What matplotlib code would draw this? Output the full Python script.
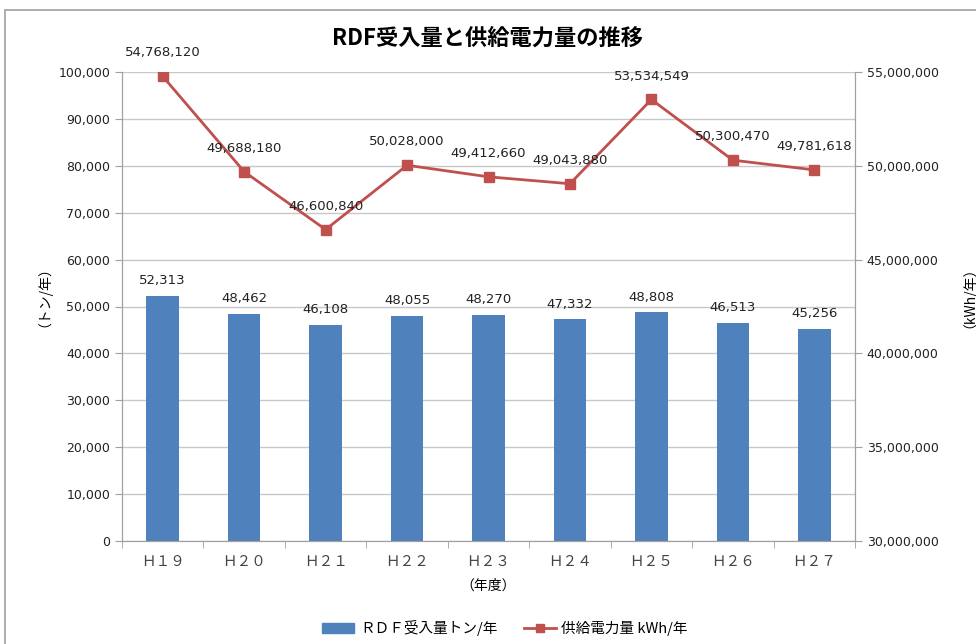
import numpy as np
import matplotlib.pyplot as plt
from matplotlib.patches import Rectangle
from matplotlib.ticker import FuncFormatter

plt.rcParams['font.family'] = ['DejaVu Sans', 'Noto Sans CJK JP']
CJK = ['Noto Sans CJK JP', 'DejaVu Sans']

years = ['Ｈ１９', 'Ｈ２０', 'Ｈ２１', 'Ｈ２２', 'Ｈ２３', 'Ｈ２４', 'Ｈ２５', 'Ｈ２６', 'Ｈ２７']
rdf_tons = [52313, 48462, 46108, 48055, 48270, 47332, 48808, 46513, 45256]
power_kwh = [54768120, 49688180, 46600840, 50028000, 49412660, 49043880, 53534549, 50300470, 49781618]

bar_color = '#4F81BD'
line_color = '#C0504D'

fig = plt.figure(figsize=(9.76, 6.44), dpi=100)
fig.patches.append(Rectangle((5/976, -0.01), 1.0, 1 - 10/644 + 0.01, transform=fig.transFigure,
                             fill=False, edgecolor='#A0A0A0', linewidth=1.2))
ax = fig.add_axes([122/976, 1 - 541/644, (855 - 122)/976, (541 - 72)/644])
ax2 = ax.twinx()

x = np.arange(len(years))
ax.bar(x, rdf_tons, width=0.4, color=bar_color, zorder=2)
for xi, v in zip(x, rdf_tons):
    ax.text(xi, v + 1800, f'{v:,}', ha='center', va='bottom', fontsize=9.5, color='#222222')

ax2.plot(x, power_kwh, color=line_color, marker='s', markersize=7, linewidth=2, zorder=3)
for xi, v in zip(x, power_kwh):
    ax2.text(xi, v + 900000, f'{v:,}', ha='center', va='bottom', fontsize=9.5, color='#222222')

ax.set_xlim(-0.5, len(years) - 0.5)
ax.set_ylim(0, 100000)
ax.set_yticks(np.arange(0, 100001, 10000))
ax2.set_ylim(30000000, 55000000)
ax2.set_yticks(np.arange(30000000, 55000001, 5000000))
fmt = FuncFormatter(lambda v, p: f'{int(v):,}')
ax.yaxis.set_major_formatter(fmt)
ax2.yaxis.set_major_formatter(fmt)

ax.set_xticks(x)
ax.set_xticklabels(years, fontsize=10.5, color='#444444', family=CJK)
ax.set_xticks(np.arange(-0.5, len(years)), minor=True)
ax.tick_params(axis='x', which='major', length=0, pad=10)
ax.tick_params(axis='x', which='minor', length=5, color='#A0A0A0')
ax.tick_params(axis='y', length=5, color='#A0A0A0', labelsize=9, labelcolor='#222222')
ax2.tick_params(axis='y', length=5, color='#A0A0A0', labelsize=9, labelcolor='#222222')

ax.grid(axis='y', color='#C8C8C8', linewidth=1, zorder=0)
ax.set_axisbelow(True)
for a in (ax, ax2):
    a.spines['top'].set_visible(False)
    for s in ('left', 'right', 'bottom'):
        a.spines[s].set_color('#A0A0A0')

fig.text(37/976, 1 - 290/644, '（トン/年）', rotation=90, ha='center', va='center',
         fontsize=10, family=CJK)
fig.text(962/976, 1 - 290/644, '（kWh/年）', rotation=90, ha='center', va='center',
         fontsize=10, family=CJK)
ax.set_xlabel('（年度）', fontsize=10, labelpad=7, family=CJK)

fig.text(0.5, 1 - 38/644, 'RDF受入量と供給電力量の推移', ha='center', va='center',
         fontsize=16, fontweight='bold', family=CJK)

handles = [Rectangle((0, 0), 1, 1, color=bar_color),
           plt.Line2D([], [], color=line_color, marker='s', markersize=6, linewidth=2)]
fig.legend(handles, ['ＲＤＦ受入量トン/年', '供給電力量 kWh/年'], loc='center',
           bbox_to_anchor=(505/976, 1 - 628/644), ncol=2, frameon=False,
           prop={'family': CJK, 'size': 10.5}, handlelength=2.2, handletextpad=0.4,
           columnspacing=1.8)

fig.savefig('out.png', dpi=100)
